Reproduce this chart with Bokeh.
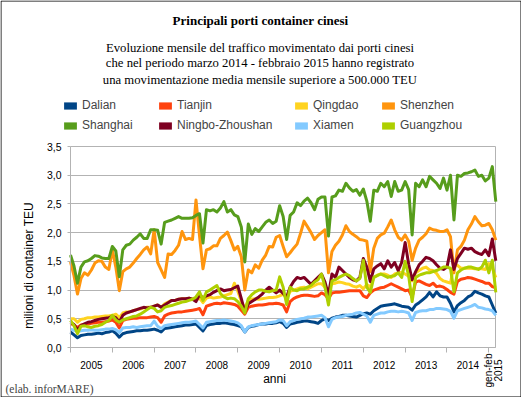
from math import pi
from bokeh.plotting import figure
from bokeh.models import (ColumnDataSource, FixedTicker, Label, Legend, LegendItem,
                          Range1d, CustomJSTickFormatter, Grid, BoxAnnotation)
from bokeh.embed import file_html
from bokeh.resources import INLINE

# ---------------- data (million TEU per month, Dec 2004 .. Feb 2015) ----------------
ports = ["Dalian", "Tianjin", "Qingdao", "Shenzhen",
         "Shanghai", "Ningbo-Zhoushan", "Xiamen", "Guangzhou"]
colors = ["#004586", "#ff420e", "#ffd320", "#ff950e",
          "#579d1c", "#7e0021", "#83caff", "#aecf00"]
years = ["2005", "2006", "2007", "2008", "2009", "2010", "2011", "2012", "2013", "2014"]
last_label = ["gen-feb", "2015"]
y_ticks = [0, 0.5, 1, 1.5, 2, 2.5, 3, 3.5]

dalian = [0.27,
          0.22, 0.17, 0.21, 0.22, 0.23, 0.23, 0.24, 0.25, 0.24, 0.26, 0.27, 0.29,
          0.25, 0.18, 0.24, 0.26, 0.27, 0.28, 0.29, 0.29, 0.30, 0.30, 0.31, 0.32,
          0.30, 0.27, 0.33, 0.34, 0.35, 0.36, 0.37, 0.38, 0.39, 0.39, 0.40, 0.41,
          0.35, 0.29, 0.38, 0.40, 0.41, 0.42, 0.42, 0.43, 0.42, 0.41, 0.40, 0.38,
          0.36, 0.27, 0.35, 0.37, 0.38, 0.40, 0.41, 0.41, 0.42, 0.42, 0.43, 0.45,
          0.42, 0.35, 0.41, 0.42, 0.44, 0.45, 0.46, 0.46, 0.45, 0.44, 0.42, 0.47,
          0.50, 0.47, 0.51, 0.53, 0.54, 0.56, 0.56, 0.55, 0.54, 0.53, 0.56, 0.59,
          0.60, 0.58, 0.64, 0.68, 0.72, 0.73, 0.74, 0.75, 0.76, 0.74, 0.72, 0.71,
          0.70, 0.65, 0.74, 0.78, 0.83, 0.88, 0.96, 0.88, 0.97, 0.90, 0.88, 0.88,
          0.77, 0.62, 0.73, 0.78, 0.82, 0.88, 0.91, 0.98, 0.95, 0.93, 0.90, 0.88,
          0.74, 0.60]
tianjin = [0.42,
           0.39, 0.35, 0.39, 0.40, 0.41, 0.42, 0.43, 0.44, 0.44, 0.45, 0.46, 0.48,
           0.44, 0.34, 0.47, 0.49, 0.50, 0.51, 0.51, 0.52, 0.52, 0.52, 0.53, 0.54,
           0.52, 0.44, 0.55, 0.58, 0.60, 0.61, 0.62, 0.62, 0.63, 0.64, 0.65, 0.66,
           0.68, 0.57, 0.72, 0.74, 0.76, 0.77, 0.76, 0.78, 0.77, 0.76, 0.75, 0.72,
           0.65, 0.58, 0.70, 0.72, 0.73, 0.74, 0.74, 0.75, 0.76, 0.76, 0.77, 0.76,
           0.74, 0.62, 0.80, 0.85, 0.88, 0.90, 0.91, 0.91, 0.90, 0.89, 0.90, 0.95,
           0.92, 0.85, 0.95, 0.96, 0.96, 0.97, 0.98, 0.99, 0.99, 0.99, 0.99, 0.90,
           0.87, 0.95, 1.00, 1.02, 1.04, 1.05, 1.08, 1.11, 1.08, 1.05, 1.02, 0.99,
           1.00, 0.88, 1.14, 1.16, 1.13, 1.10, 1.08, 1.12, 1.06, 1.07, 1.05, 1.01,
           0.96, 0.93, 1.15, 1.19, 1.20, 1.22, 1.21, 1.19, 1.17, 1.15, 1.12, 1.12,
           1.06, 1.04]
qingdao = [0.50,
           0.50, 0.44, 0.49, 0.50, 0.52, 0.52, 0.53, 0.53, 0.54, 0.55, 0.55, 0.56,
           0.58, 0.52, 0.60, 0.62, 0.62, 0.64, 0.66, 0.67, 0.69, 0.70, 0.70, 0.72,
           0.74, 0.70, 0.76, 0.79, 0.82, 0.82, 0.84, 0.85, 0.85, 0.86, 0.84, 0.83,
           0.86, 0.78, 0.86, 0.88, 0.86, 0.87, 0.88, 0.90, 0.92, 0.94, 1.12, 0.98,
           0.80, 0.68, 0.82, 0.84, 0.85, 0.84, 0.85, 0.86, 0.87, 0.87, 0.88, 0.90,
           0.93, 0.85, 0.98, 1.00, 1.02, 1.04, 1.05, 1.02, 1.05, 1.08, 1.11, 1.11,
           1.05, 1.00, 1.11, 1.12, 1.14, 1.13, 1.11, 1.10, 1.07, 1.05, 1.08, 1.02,
           1.10, 1.05, 1.22, 1.26, 1.28, 1.28, 1.26, 1.22, 1.28, 1.30, 1.31, 1.28,
           1.24, 1.16, 1.30, 1.34, 1.38, 1.40, 1.35, 1.34, 1.29, 1.20, 1.16, 1.14,
           1.12, 1.46, 1.43, 1.38, 1.38, 1.38, 1.38, 1.37, 1.37, 1.37, 1.36, 1.46,
           1.38, 1.22]
shenzhen = [1.49,
            1.25, 0.93, 1.20, 1.30, 1.26, 1.35, 1.47, 1.51, 1.50, 1.40, 1.36, 1.70,
            1.40, 0.99, 1.32, 1.37, 1.40, 1.47, 1.55, 1.62, 1.70, 1.75, 1.63, 2.05,
            1.48, 1.35, 1.22, 1.63, 1.62, 1.69, 1.78, 2.02, 1.88, 1.90, 1.88, 2.57,
            1.95, 1.37, 1.70, 1.72, 1.77, 1.77, 1.90, 1.95, 2.01, 1.86, 1.70, 1.76,
            1.58, 1.00, 1.35, 1.30, 1.44, 1.38, 1.52, 1.61, 1.76, 1.75, 1.92, 1.95,
            1.76, 1.58, 1.65, 1.73, 1.80, 1.99, 2.20, 2.10, 2.00, 1.88, 1.95, 2.00,
            2.05, 1.30, 1.67, 1.78, 1.85, 1.96, 2.12, 2.02, 1.97, 1.93, 1.88, 1.87,
            1.85, 1.32, 1.73, 1.90, 1.96, 1.99, 2.10, 2.22, 2.05, 1.92, 1.87, 1.96,
            1.85, 1.52, 1.73, 1.87, 1.92, 1.98, 2.08, 2.05, 2.04, 2.02, 2.02, 2.05,
            1.93, 1.30, 1.70, 1.76, 1.87, 2.05, 2.15, 2.28, 2.19, 2.12, 2.13, 2.16,
            2.05, 1.87]
shanghai = [1.61,
            1.42, 1.12, 1.40, 1.49, 1.51, 1.55, 1.60, 1.59, 1.56, 1.55, 1.55, 1.76,
            1.68, 1.23, 1.70, 1.78, 1.80, 1.87, 1.92, 1.98, 1.90, 1.90, 2.05, 2.05,
            2.04, 1.80, 2.18, 2.20, 2.22, 2.25, 2.28, 2.25, 2.25, 2.25, 2.26, 2.30,
            2.33, 1.82, 2.40, 2.38, 2.40, 2.36, 2.43, 2.54, 2.36, 2.40, 2.31, 2.28,
            2.10, 1.49, 2.15, 1.97, 2.07, 2.02, 2.10, 2.18, 2.22, 2.16, 2.20, 2.47,
            2.28, 1.88, 2.30, 2.36, 2.52, 2.47, 2.55, 2.60, 2.52, 2.40, 2.58, 2.62,
            2.62, 1.94, 2.62, 2.64, 2.74, 2.72, 2.86, 2.78, 2.72, 2.75, 2.65, 2.76,
            2.55, 2.20, 2.74, 2.72, 2.86, 2.80, 2.89, 2.63, 2.89, 2.72, 2.74, 2.89,
            2.75, 1.96, 2.86, 2.80, 2.92, 2.80, 2.98, 2.92, 2.86, 2.77, 2.95, 2.74,
            3.00, 2.22, 3.00, 2.98, 3.03, 3.04, 3.06, 3.09, 2.98, 3.00, 2.90, 2.95,
            3.15, 2.54]
ningbo = [0.44,
          0.40, 0.30, 0.38, 0.41, 0.44, 0.45, 0.47, 0.49, 0.50, 0.51, 0.52, 0.54,
          0.52, 0.44, 0.56, 0.60, 0.62, 0.64, 0.66, 0.68, 0.70, 0.69, 0.70, 0.72,
          0.74, 0.70, 0.74, 0.78, 0.82, 0.82, 0.84, 0.85, 0.85, 0.86, 0.84, 0.80,
          0.92, 0.86, 0.90, 0.92, 0.96, 0.99, 1.02, 0.99, 1.00, 1.01, 1.04, 1.07,
          0.85, 0.62, 0.76, 0.80, 0.84, 0.88, 0.93, 1.00, 1.05, 1.00, 0.95, 1.00,
          0.94, 0.88, 1.05, 1.15, 1.22, 1.20, 1.22, 1.16, 1.10, 1.16, 1.22, 1.28,
          1.14, 0.91, 1.28, 1.22, 1.40, 1.34, 1.28, 1.22, 1.18, 1.16, 1.22, 1.55,
          1.40, 1.15, 1.37, 1.42, 1.46, 1.37, 1.51, 1.40, 1.48, 1.34, 1.48, 1.83,
          1.45, 1.18, 1.32, 1.44, 1.50, 1.57, 1.55, 1.51, 1.44, 1.38, 1.36, 1.40,
          1.70, 1.36, 1.55, 1.64, 1.73, 1.71, 1.73, 1.67, 1.64, 1.62, 1.70, 1.60,
          1.89, 1.51]
xiamen = [0.32,
          0.30, 0.28, 0.29, 0.30, 0.30, 0.31, 0.30, 0.30, 0.31, 0.32, 0.32, 0.33,
          0.31, 0.26, 0.34, 0.35, 0.35, 0.36, 0.35, 0.36, 0.37, 0.38, 0.38, 0.46,
          0.37, 0.33, 0.38, 0.39, 0.40, 0.41, 0.42, 0.43, 0.44, 0.44, 0.45, 0.46,
          0.40, 0.34, 0.44, 0.45, 0.46, 0.47, 0.47, 0.48, 0.47, 0.46, 0.45, 0.43,
          0.38, 0.27, 0.36, 0.38, 0.39, 0.40, 0.41, 0.42, 0.43, 0.44, 0.45, 0.48,
          0.47, 0.38, 0.45, 0.47, 0.49, 0.50, 0.51, 0.53, 0.53, 0.54, 0.55, 0.56,
          0.52, 0.36, 0.49, 0.52, 0.53, 0.54, 0.56, 0.57, 0.58, 0.60, 0.61, 0.58,
          0.55, 0.44, 0.56, 0.58, 0.60, 0.60, 0.62, 0.63, 0.63, 0.62, 0.63, 0.62,
          0.60, 0.47, 0.61, 0.63, 0.64, 0.64, 0.66, 0.66, 0.68, 0.68, 0.67, 0.66,
          0.63, 0.51, 0.64, 0.66, 0.68, 0.70, 0.72, 0.75, 0.70, 0.69, 0.67, 0.66,
          0.64, 0.56]
guangzhou = [0.47,
             0.38, 0.24, 0.37, 0.38, 0.36, 0.35, 0.37, 0.38, 0.40, 0.44, 0.47, 0.56,
             0.48, 0.44, 0.48, 0.50, 0.52, 0.54, 0.55, 0.58, 0.62, 0.66, 0.70, 0.68,
             0.62, 0.64, 0.70, 0.72, 0.73, 0.75, 0.77, 0.79, 0.80, 0.82, 0.84, 0.88,
             0.97, 0.82, 0.97, 1.00, 1.04, 1.08, 0.94, 0.88, 0.85, 0.86, 0.85, 0.80,
             0.72, 0.60, 0.85, 0.92, 0.97, 1.00, 1.00, 0.98, 0.97, 0.99, 1.00, 1.23,
             1.05, 0.75, 1.05, 1.00, 0.99, 1.02, 1.02, 1.05, 1.08, 1.14, 1.18, 1.28,
             1.05, 0.74, 1.16, 1.18, 1.22, 1.25, 1.28, 1.25, 1.20, 1.16, 1.20, 1.52,
             1.05, 0.96, 1.22, 1.25, 1.28, 1.25, 1.22, 1.24, 1.25, 1.30, 1.22, 1.50,
             1.25, 0.80, 1.22, 1.26, 1.28, 1.30, 1.30, 1.32, 1.34, 1.37, 1.40, 1.40,
             1.38, 0.97, 1.30, 1.35, 1.38, 1.40, 1.40, 1.38, 1.36, 1.40, 1.52, 1.30,
             1.52, 0.96]

series = dict(zip(ports, [dalian, tianjin, qingdao, shenzhen,
                          shanghai, ningbo, xiamen, guangzhou]))

title = "Principali porti container cinesi"
subtitle = ["Evoluzione mensile del traffico movimentato dai porti cinesi",
            "che nel periodo marzo 2014 - febbraio 2015 hanno registrato",
            "una movimentazione media mensile superiore a 500.000 TEU"]

# ---------------- layout helpers (canvas pixels) ----------------
W, H = 521, 397                       # canvas
FL, FR, FT, FB = 70, 495.3, 146, 347  # plot area inside canvas
XMAX, YMAX = 122, 3.5
PXX = (FR - FL) / XMAX
PXY = (FB - FT) / YMAX
GRAY = "#b3b3b3"


def ux(px):
    return (px - FL) / PXX


def uy(py):
    return (FB - py) / PXY


p = figure(width=W, height=H, x_range=Range1d(ux(0), ux(W)), y_range=Range1d(uy(H), uy(0)),
           min_border=0, output_backend="svg", toolbar_location=None, title=None)
p.background_fill_color = "white"
p.border_fill_color = "white"
p.outline_line_color = None
p.xgrid.visible = False

# grid lines limited to the plot area
p.ygrid.ticker = FixedTicker(ticks=y_ticks)
p.ygrid.grid_line_color = GRAY
try:
    p.ygrid.cross_bounds = (0, XMAX)
    p.add_layout(Grid(dimension=0, ticker=FixedTicker(ticks=[XMAX]),
                      cross_bounds=(0, YMAX), grid_line_color=GRAY))
except AttributeError:
    p.ygrid.visible = False
    p.segment(x0=[0] * len(y_ticks), x1=[XMAX] * len(y_ticks), y0=y_ticks, y1=y_ticks,
              line_color=GRAY, line_width=1)
    p.segment(x0=[XMAX], x1=[XMAX], y0=[0], y1=[YMAX], line_color=GRAY, line_width=1)

yax = p.yaxis[0]
yax.fixed_location = 0
yax.bounds = (0, YMAX)
yax.ticker = FixedTicker(ticks=y_ticks)
yax.formatter = CustomJSTickFormatter(code="return tick.toFixed(1).replace('.', ',');")
yax.major_label_text_font = "Liberation Sans"
yax.major_label_text_font_size = "10.5px"
yax.major_label_text_color = "black"
yax.major_tick_out = 3
yax.major_tick_in = 0
yax.major_tick_line_color = GRAY
yax.minor_tick_line_color = None
yax.axis_line_color = GRAY
yax.major_label_standoff = 6

xax = p.xaxis[0]
xax.fixed_location = 0
xax.bounds = (0, XMAX)
year_pos = [6 + 12 * i for i in range(len(years))]
xax.ticker = FixedTicker(ticks=year_pos, minor_ticks=[12 * i for i in range(len(years) + 1)])
xax.major_label_overrides = {pos: yr for pos, yr in zip(year_pos, years)}
xax.major_label_text_font = "Liberation Sans"
xax.major_label_text_font_size = "10px"
xax.major_label_text_color = "black"
xax.major_tick_out = 0
xax.major_tick_in = 0
xax.major_tick_line_color = None
xax.minor_tick_out = 5
xax.minor_tick_in = 0
xax.minor_tick_line_color = GRAY
xax.axis_line_color = GRAY
xax.major_label_standoff = 8

swatch = {}
for name, color in zip(ports, colors):
    vals = series[name]
    src = ColumnDataSource(dict(month=list(range(len(vals))), teu=vals))
    p.line("month", "teu", source=src, line_color=color, line_width=3,
           line_join="round")
    # zero-size quad: only used to draw the square legend swatch
    swatch[name] = p.quad(left=[0], right=[0], bottom=[0], top=[0],
                          fill_color=color, line_color=None)

col_left = [62, 157, 293, 380]
for c, lx in enumerate(col_left):
    a, b = ports[c], ports[c + 4]
    leg = Legend(items=[LegendItem(label=a, renderers=[swatch[a]]),
                        LegendItem(label=b, renderers=[swatch[b]])],
                 location=(lx, H - 132), orientation="vertical",
                 glyph_width=16, glyph_height=9, label_standoff=4,
                 label_height=14, spacing=6, padding=0, margin=0,
                 label_text_font="Liberation Sans", label_text_font_size="12px",
                 border_line_color=None, background_fill_alpha=0)
    p.add_layout(leg)


def lab(text, px, py, **kw):
    opts = dict(text_align="center", text_baseline="middle",
                text_font="Liberation Sans", text_font_size="12px", text_color="black")
    opts.update(kw)
    p.add_layout(Label(x=ux(px), y=uy(py), text=text, **opts))


lab(title, 260, 20, text_font="Liberation Serif", text_font_style="bold",
    text_font_size="13px")
for line, py in zip(subtitle, [47, 62.5, 79]):
    lab(line, 259.5, py, text_font="Liberation Serif", text_font_size="12.7px")
lab("milioni di container TEU", 28, 265, angle=pi / 2)
lab("anni", 274, 378)
lab("(elab. inforMARE)", 5, 388, text_align="left", text_font="Liberation Serif",
    text_font_size="11.5px", text_color="#444444")
lab(last_label[0], 488, 370, angle=pi / 2, text_font_size="10px")
lab(last_label[1], 497, 370, angle=pi / 2, text_font_size="10px")

# thin black frame around the whole picture
p.add_layout(BoxAnnotation(left=ux(0.5), right=ux(W - 0.5), top=uy(0.5), bottom=uy(H - 0.5),
                           fill_color=None, line_color="black", line_alpha=1.0,
                           line_width=1, level="overlay"))

open("out.html", "w").write(file_html(p, INLINE))
